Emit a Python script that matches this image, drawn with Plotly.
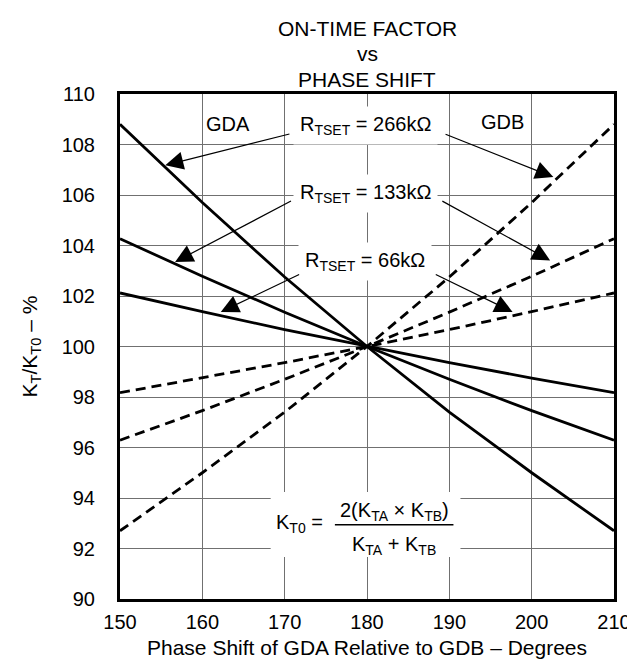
import plotly.graph_objects as go

# Data
phase_deg = [150, 160, 170, 180, 190, 200, 210]
gda_266k = [108.8, 105.7, 102.75, 100.0, 97.4, 95.0, 92.7]
gda_133k = [104.27, 102.78, 101.36, 100.0, 98.70, 97.46, 96.29]
gda_66k = [102.12, 101.38, 100.67, 100.0, 99.36, 98.75, 98.17]
gdb_266k = list(reversed(gda_266k))
gdb_133k = list(reversed(gda_133k))
gdb_66k = list(reversed(gda_66k))

x_ticks = [150, 160, 170, 180, 190, 200, 210]
y_ticks = [90, 92, 94, 96, 98, 100, 102, 104, 106, 108, 110]

FONT = "Liberation Sans"
BLACK = "black"

fig = go.Figure()
for ys in (gda_266k, gda_133k, gda_66k):
    fig.add_trace(go.Scatter(x=phase_deg, y=ys, mode="lines",
                             line=dict(color=BLACK, width=2.8),
                             showlegend=False, hoverinfo="skip"))
for ys in (gdb_266k, gdb_133k, gdb_66k):
    fig.add_trace(go.Scatter(x=phase_deg, y=ys, mode="lines",
                             line=dict(color=BLACK, width=2.8, dash="10px,6px"),
                             showlegend=False, hoverinfo="skip"))

annotations = []
# title lines
for txt, shift in [("ON-TIME FACTOR", 66), ("vs", 41), ("PHASE SHIFT", 15)]:
    annotations.append(dict(xref="paper", yref="paper", x=0.5, y=1, yshift=shift,
                            text=txt, showarrow=False, xanchor="center", yanchor="middle",
                            font=dict(family=FONT, size=21, color=BLACK)))

# curve labels
lbl_font = dict(family=FONT, size=20, color=BLACK)
for txt, y in [("R<sub>TSET</sub> = 266kΩ", 108.76),
               ("R<sub>TSET</sub> = 133kΩ", 106.05),
               ("R<sub>TSET</sub> = 66kΩ", 103.35)]:
    annotations.append(dict(x=179.76, y=y, xref="x", yref="y", text=txt,
                            showarrow=False, font=lbl_font, bgcolor="white",
                            borderpad=6, xanchor="center", yanchor="middle"))
annotations.append(dict(x=163.13, y=108.82, text="GDA", showarrow=False,
                        font=dict(family=FONT, size=20, color=BLACK)))
annotations.append(dict(x=196.49, y=108.9, text="GDB", showarrow=False,
                        font=dict(family=FONT, size=20, color=BLACK)))

# arrows: (tip_x, tip_y, tail_x, tail_y)
arrows = [
    (155.50, 107.18, 170.76, 108.43),
    (202.63, 106.71, 189.36, 108.43),
    (156.69, 103.35, 170.95, 105.79),
    (202.24, 103.41, 188.97, 105.79),
    (162.24, 101.37, 171.94, 102.88),
    (197.68, 101.37, 188.17, 102.88),
]
for tx, ty, sx, sy in arrows:
    annotations.append(dict(x=tx, y=ty, ax=sx, ay=sy, xref="x", yref="y",
                            axref="x", ayref="y", text="", showarrow=True,
                            arrowhead=2, arrowsize=3, arrowwidth=1.2,
                            arrowcolor=BLACK, standoff=0, startstandoff=0))

# formula
f_font = dict(family=FONT, size=20, color=BLACK)
annotations.append(dict(x=174.91, y=92.98, text="K<sub>T0</sub> =", showarrow=False,
                        xanchor="right", yanchor="middle", font=f_font))
annotations.append(dict(x=183.3, y=93.46, text="2(K<sub>TA</sub> × K<sub>TB</sub>)",
                        showarrow=False, xanchor="center", yanchor="middle", font=f_font))
annotations.append(dict(x=183.3, y=92.12, text="K<sub>TA</sub> + K<sub>TB</sub>",
                        showarrow=False, xanchor="center", yanchor="middle", font=f_font))

# axis titles
annotations.append(dict(xref="paper", yref="paper", x=0, y=0.5, xshift=-90,
                        text="K<sub>T</sub>/K<sub>T0</sub> – %", textangle=-90,
                        showarrow=False, xanchor="center", yanchor="middle",
                        font=dict(family=FONT, size=21, color=BLACK)))
annotations.append(dict(xref="paper", yref="paper", x=0.5, y=0, yshift=-48,
                        text="Phase Shift of GDA Relative to GDB – Degrees",
                        showarrow=False, xanchor="center", yanchor="middle",
                        font=dict(family=FONT, size=21, color=BLACK)))

shapes = [
    dict(type="rect", xref="x", yref="y", x0=168.3, x1=191.35, y0=91.66, y1=94.24,
         fillcolor="white", line=dict(width=0), layer="between"),
    dict(type="line", xref="x", yref="y", x0=176.1, x1=190.5, y0=92.94, y1=92.94,
         line=dict(color=BLACK, width=1.5), layer="above"),
]

fig.update_layout(
    width=635, height=666,
    margin=dict(l=112, r=18, t=86, b=75),
    paper_bgcolor="white", plot_bgcolor="white",
    font=dict(family=FONT, color=BLACK),
    annotations=annotations, shapes=shapes,
    xaxis=dict(range=[150, 210], tickvals=x_ticks, ticktext=[str(v) for v in x_ticks],
               showgrid=True, gridcolor="#707070", gridwidth=1,
               showline=True, linecolor=BLACK, linewidth=3, mirror=True,
               ticks="", ticklabelstandoff=3, ticklabeloverflow="allow", zeroline=False,
               tickfont=dict(family=FONT, size=20, color=BLACK)),
    yaxis=dict(range=[90, 110], tickvals=y_ticks, ticktext=[str(v) for v in y_ticks],
               showgrid=True, gridcolor="#707070", gridwidth=1,
               showline=True, linecolor=BLACK, linewidth=3, mirror=True,
               ticks="", ticklabelstandoff=18, ticklabeloverflow="allow", zeroline=False,
               tickfont=dict(family=FONT, size=20, color=BLACK)),
)

fig.write_html("out.html")
